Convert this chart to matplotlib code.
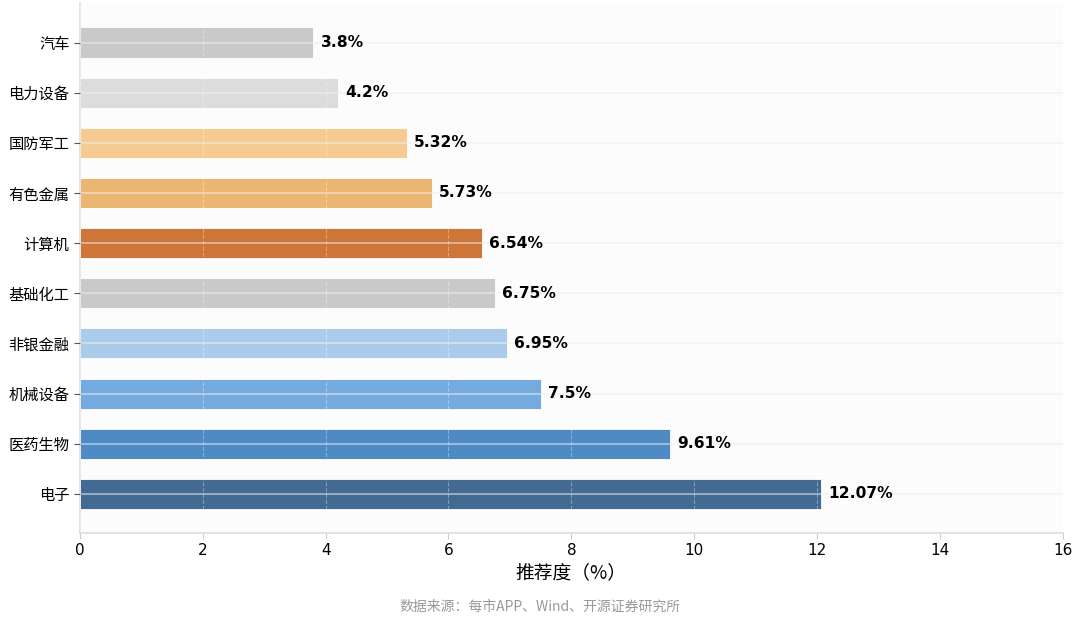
import matplotlib
matplotlib.use("Agg")
import matplotlib.pyplot as plt

plt.rcParams['font.family'] = ['DejaVu Sans', 'Noto Sans CJK SC']

# 行业推荐度（从下往上）
industries = ["电子", "医药生物", "机械设备", "非银金融", "基础化工",
              "计算机", "有色金属", "国防军工", "电力设备", "汽车"]
values = [12.07, 9.61, 7.5, 6.95, 6.75, 6.54, 5.73, 5.32, 4.2, 3.8]
value_labels = ["12.07%", "9.61%", "7.5%", "6.95%", "6.75%",
                "6.54%", "5.73%", "5.32%", "4.2%", "3.8%"]
bar_colors = ["#3e6790", "#4a88c2", "#72a9de", "#a9cbea", "#c8c8c8",
              "#cd7236", "#ebb56f", "#f5ca8f", "#dcdcdc", "#c8c8c8"]
x_ticks = [0, 2, 4, 6, 8, 10, 12, 14, 16]

fig = plt.figure(figsize=(10.8, 6.23), dpi=100)
ax = fig.add_axes([0.074, 0.1445, 0.910, 0.850])
ax.set_facecolor("#fcfcfc")

pos = range(len(industries))
ax.barh(pos, values, height=0.6, color=bar_colors, edgecolor="#ffffff",
        linewidth=0.6, alpha=0.98, zorder=2)

# 数值标签
for i, (v, lab) in enumerate(zip(values, value_labels)):
    ax.text(v + 0.12, i, lab, va="center", ha="left", fontsize=11.2,
            fontweight="bold", color="black", zorder=4)

ax.set_yticks(list(pos))
ax.set_yticklabels(industries, fontsize=11, family=['Noto Sans CJK SC'])
ax.set_xticks(x_ticks)
ax.set_xlim(0, 16)
ax.tick_params(axis="x", labelsize=11, length=4, color="#cccccc")
ax.tick_params(axis="y", length=4, color="#555555")

# 网格
ax.set_axisbelow(False)
ax.xaxis.grid(True, linestyle="--", color="#ffffff", alpha=0.35, linewidth=0.8, zorder=3)
ax.yaxis.grid(True, linestyle="-", color="#eeeeee", alpha=0.6, linewidth=1.2, zorder=3)

for s in ["top", "right"]:
    ax.spines[s].set_visible(False)
for s in ["left", "bottom"]:
    ax.spines[s].set_color("#dddddd")
    ax.spines[s].set_linewidth(1.2)

ax.set_xlabel("推荐度（%）", fontsize=13.5, family=['Noto Sans CJK SC'], labelpad=3)

fig.text(0.5, 0.015, "数据来源：每市APP、Wind、开源证券研究所", ha="center", va="bottom",
         fontsize=10, color="#999999", family=['Noto Sans CJK SC'])

fig.savefig("out.png", dpi=100, facecolor="white")
